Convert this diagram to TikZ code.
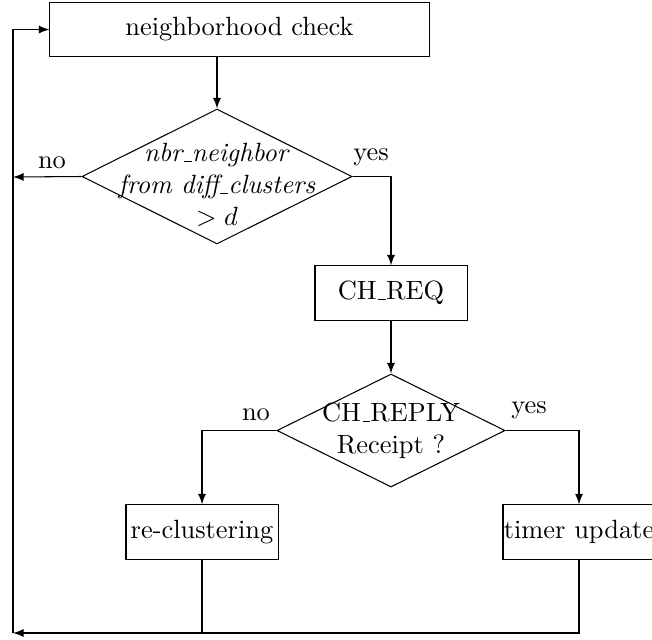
\documentclass[tikz,border=0pt]{standalone}
\usetikzlibrary{shapes.geometric,arrows}
\makeatletter
\newcommand{\usc}{\leavevmode\kern.06em\vbox{\hrule\@width.3em}}
\makeatother
\begin{document}
\begin{tikzpicture}[x=0.3788pt,y=-0.3788pt,
  box/.style={draw,rectangle,inner sep=0pt,minimum width=57.6pt,minimum height=20.5pt},
  dia/.style={draw,diamond,inner sep=0pt},
  lbl/.style={inner sep=0pt},
  arr/.style={-latex},
  ln/.style={-}]
\useasboundingbox (0,0) rectangle (652,639);
\node[box,minimum width=143.6pt,minimum height=20.1pt] (top) at (239.5,29.5) {neighborhood check};
\node[dia,minimum width=102.3pt,minimum height=51.1pt] (d1) at (217,176.5) {};
\node[lbl,align=center] (t1) at (217,185) {\textit{nbr\usc neighbor}\\ \textit{from diff\usc clusters}\\ $>d$};
\node[box] (chreq) at (391,293) {CH\usc REQ};
\node[dia,minimum width=86.4pt,minimum height=42.8pt] (d2) at (391,430.5) {};
\node[lbl,align=center] (t2) at (391,431) {CH\usc REPLY\\ Receipt ?};
\node[box] (rc) at (202,532) {re-clustering};
\node[box] (tu) at (579,532) {timer update};
\node[lbl] (no1) at (52,163) {no};
\node[lbl] (yes1) at (371,157) {yes};
\node[lbl] (no2) at (256,415) {no};
\node[lbl] (yes2) at (529,410) {yes};
\coordinate (lx) at (13,177);
\coordinate (bl) at (13,633);
\coordinate (tl) at (13,29.5);
\draw[arr] (d1.north |- top.south) -- (d1.north);
\draw[arr] (d1.west) -- (lx);
\draw[arr] (d1.east) -| (chreq.north);
\draw[arr] (chreq.south) -- (d2.north);
\draw[arr] (d2.west) -| (rc.north);
\draw[arr] (d2.east) -| (tu.north);
\draw[ln] (rc.south) -- (rc.south |- bl);
\draw[arr] (tu.south) |- (bl);
\draw[arr] (bl) -- (tl) -- (top.west);
\end{tikzpicture}
\end{document}
